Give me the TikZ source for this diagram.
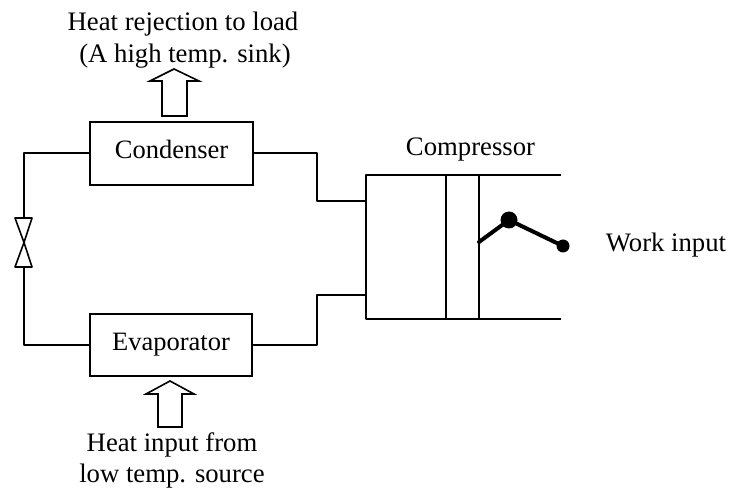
\documentclass[tikz,border=0pt]{standalone}
\usepackage{fontspec}
\setmainfont{Liberation Serif}
\begin{document}
\begin{tikzpicture}[x=1pt,y=-1pt,
  line/.style={draw=black,line width=1.6pt,line join=round},
  unit/.style={draw=black,line width=2pt,rectangle,inner sep=0pt,text height=18pt,text depth=7.5pt,font=\fontsize{26.5}{26.5}\selectfont},
  lbl/.style={inner sep=0pt,anchor=base,font=\fontsize{26.7}{32}\selectfont},
  fat/.style={draw=black,line width=1.6pt,line join=miter,fill=white},
  crank/.style={draw=black,line width=4pt,line cap=round,line join=round}]
\useasboundingbox (0,0) rectangle (732,494);
% components
\node[unit,minimum width=163pt,minimum height=63pt] (cond) at (171.5,153.5) {Condenser};
\node[unit,minimum width=162pt,minimum height=62pt] (evap) at (171,345) {Evaporator};
\coordinate (cl) at (90,153);
\coordinate (el) at (90,345);
\coordinate (cr) at (253,153);
\coordinate (er) at (252,345);
\coordinate (vt) at (24,218);
\coordinate (vb) at (24,267);
\coordinate (vc) at (24,242.5);
\coordinate (ci) at (366,201);
\coordinate (eo) at (366,295);
% piping
\draw[line] (cl) -- (24,153) -- (vt);
\draw[line] (el) -- (24,345) -- (vb);
\draw[line] (cr) -- (317,153) -- (317,201) -- (ci);
\draw[line] (er) -- (317,345) -- (317,295) -- (eo);
% valve
\draw[line] (vc) -- (15,218) -- (32,218) -- cycle;
\draw[line] (vc) -- (15,267) -- (32,267) -- cycle;
% compressor
\coordinate (tl) at (366,175);
\coordinate (bl) at (366,319);
\coordinate (tr) at (561,175);
\coordinate (br) at (561,319);
\draw[line] (tr) -- (tl) -- (bl) -- (br);
\draw[line,line width=2.2pt] (446,175) -- (446,319);
\draw[line,line width=2pt] (479,175) -- (479,319);
\coordinate (c0) at (479,242);
\coordinate (c1) at (509,220);
\coordinate (c2) at (563,246);
\draw[crank] (c0) -- (c1) -- (c2);
\fill (c1) circle (8.5pt);
\fill (c2) circle (6.5pt);
% heat arrows
\draw[fat] (162,116) -- (162,81) -- (150,81) -- (174,69) -- (199,81) -- (187,81) -- (187,116) -- cycle;
\draw[fat] (158,427) -- (158,394) -- (146,394) -- (170,381) -- (194,394) -- (182,394) -- (182,427) -- cycle;
% labels
\node[lbl] (t1a) at (183,31) {Heat rejection to load};
\node[lbl] (t1b) at (185,63) {(A high temp. sink)};
\node[lbl] (t2a) at (172,452) {Heat input from};
\node[lbl] (t2b) at (172,483) {low temp. source};
\node[lbl] (t3) at (470.5,155.5) {Compressor};
\node[lbl] (t4) at (666,252) {Work input};
\end{tikzpicture}
\end{document}
